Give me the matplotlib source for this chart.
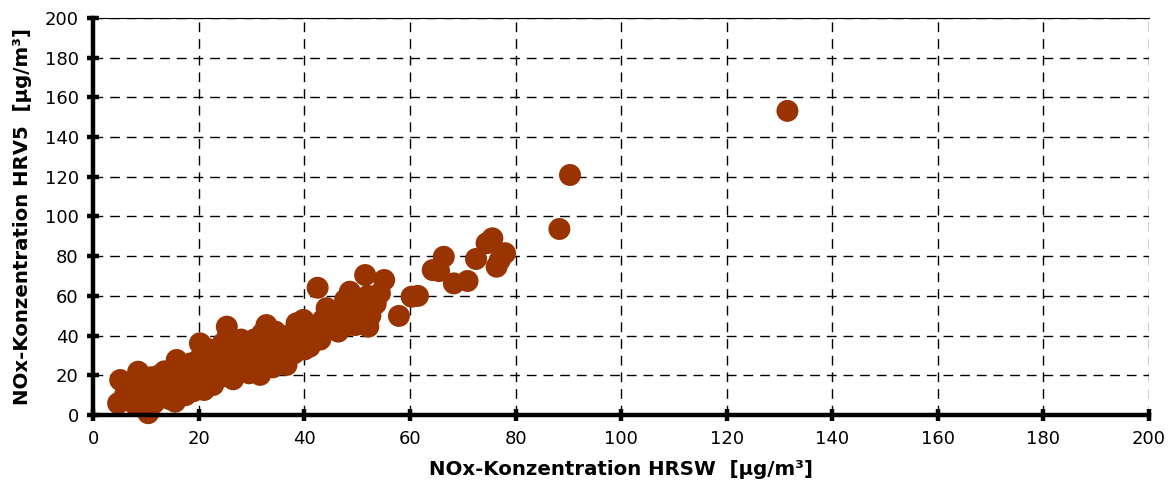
import matplotlib
matplotlib.use("Agg")
import matplotlib.pyplot as plt

# NOx concentrations at the two stations [µg/m³]
nox_hrsw = [
    4.7, 5.1, 6.0, 7.0, 7.5, 8.5, 8.0, 9.0, 9.5, 10.4, 10.0, 10.5, 11.0, 11.5, 12.0, 12.0,
    12.5, 13.0, 13.0, 13.5, 14.0, 14.0, 14.5, 15.0, 15.5, 15.8, 15.8, 16.0, 16.5, 16.5,
    17.0, 17.5, 18.0, 18.0, 18.5, 19.0, 19.0, 19.5, 20.2, 20.5, 20.0, 20.0, 20.5, 21.0,
    21.0, 21.5, 22.0, 22.0, 22.7, 23.0, 23.0, 23.5, 24.0, 24.0, 24.5, 25.3, 25.0, 25.0,
    25.5, 25.5, 26.0, 26.5, 26.5, 27.0, 27.0, 27.5, 28.0, 28.0, 28.5, 29.0, 29.5, 29.5,
    30.0, 30.0, 30.5, 31.0, 31.6, 31.5, 32.0, 32.8, 32.0, 32.5, 33.0, 33.5, 33.5, 34.0,
    34.0, 34.5, 35.0, 35.5, 36.0, 36.6, 36.5, 37.0, 37.5, 38.0, 38.5, 38.5, 39.0, 39.8,
    39.5, 40.0, 40.5, 41.0, 41.0, 41.5, 42.0, 42.5, 43.0, 43.5, 44.2, 44.5, 45.0, 45.5,
    46.4, 46.5, 47.0, 47.7, 48.0, 48.5, 48.6, 49.6, 49.5, 50.0, 50.5, 51.0, 51.5, 52.1,
    52.0, 52.5, 53.0, 53.5, 54.3, 55.1, 57.9, 60.3, 61.5, 64.3, 65.5, 66.4, 68.3, 70.9,
    72.5, 74.5, 75.6, 76.4, 77.0, 78.0, 88.3, 90.3, 131.5,
    6.5, 9.0, 11.0, 13.5, 17.0, 19.5, 22.5, 27.5, 31.0, 35.0, 37.5, 43.0, 47.5,
]
nox_hrv5 = [
    5.9, 17.6, 10.0, 8.0, 14.0, 21.8, 5.0, 12.0, 17.0, 0.9, 8.0, 14.0, 19.0, 6.0, 11.0, 17.0,
    20.0, 9.0, 14.0, 22.0, 12.0, 18.0, 8.0, 15.0, 6.7, 27.7, 8.4, 20.0, 12.0, 24.0,
    17.0, 10.0, 14.0, 22.0, 26.0, 12.0, 18.0, 24.0, 36.1, 35.3, 15.0, 28.0, 20.0, 12.6,
    25.0, 30.0, 18.0, 33.0, 15.1, 22.0, 27.0, 31.0, 19.0, 25.0, 36.0, 44.5, 21.0, 29.0,
    33.0, 40.0, 24.0, 18.0, 30.0, 35.0, 27.0, 22.0, 32.0, 38.0, 25.0, 29.0, 35.0, 21.0,
    27.0, 32.0, 38.0, 24.0, 20.2, 30.0, 35.0, 45.3, 41.0, 26.0, 32.0, 38.0, 29.0, 24.0,
    35.0, 42.0, 30.0, 37.0, 33.0, 25.2, 28.0, 40.0, 35.0, 31.0, 46.2, 38.0, 42.0, 47.9,
    36.0, 33.0, 44.0, 34.4, 40.0, 37.0, 45.0, 64.1, 42.0, 48.0, 53.8, 46.0, 50.0, 44.0,
    42.0, 52.0, 48.0, 58.0, 45.0, 54.0, 62.1, 45.3, 52.0, 57.0, 49.0, 54.0, 70.5, 44.5,
    60.0, 50.0, 58.0, 56.0, 61.3, 68.0, 49.9, 59.6, 60.0, 73.0, 72.5, 79.7, 66.3, 67.5,
    78.6, 86.5, 89.0, 74.7, 78.0, 81.5, 93.7, 120.9, 153.2,
    13.0, 9.0, 11.0, 16.0, 20.0, 15.0, 24.0, 30.0, 28.0, 34.0, 33.0, 38.0, 51.0,
]

axis_ticks = list(range(0, 201, 20))
x_label = "NOx-Konzentration HRSW  [µg/m³]"
y_label = "NOx-Konzentration HRV5  [µg/m³]"

plt.rcParams["font.family"] = ["DejaVu Sans"]

fig = plt.figure(figsize=(11.72, 4.98), dpi=100)
ax = fig.add_axes([0.0796, 0.1667, 0.9008, 0.7972])

ax.scatter(nox_hrsw, nox_hrv5, s=250, color="#993300", edgecolors="none",
           zorder=3, clip_on=False)

ax.set_xlim(0, 200)
ax.set_ylim(0, 200)
ax.set_xticks(axis_ticks)
ax.set_yticks(axis_ticks)

ax.grid(True, color="black", linestyle=(0, (7, 5)), linewidth=1.0, zorder=1)
ax.set_axisbelow(True)

for side in ("left", "bottom"):
    ax.spines[side].set_linewidth(3.2)
    ax.spines[side].set_zorder(4)
ax.spines["top"].set_linewidth(0.8)
ax.spines["right"].set_visible(False)

ax.tick_params(axis="both", direction="inout", length=9, width=3.2,
               labelsize=13, colors="black", pad=6)

ax.set_xlabel(x_label, fontsize=14.2, fontweight="bold", labelpad=9)
ax.set_ylabel(y_label, fontsize=14.2, fontweight="bold", labelpad=9)

fig.savefig("out.png", dpi=100)
